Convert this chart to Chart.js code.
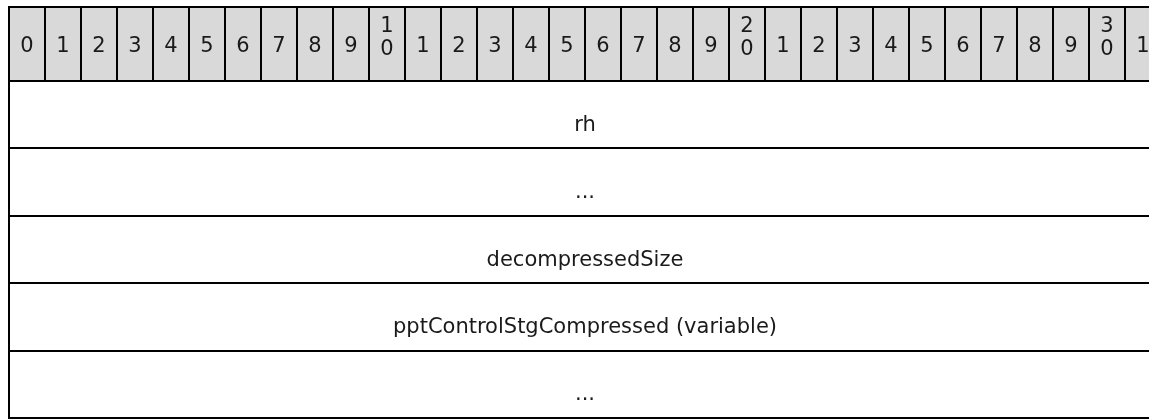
<!DOCTYPE html>
<html>
<head>
<meta charset="utf-8">
<script src="https://cdn.jsdelivr.net/npm/chart.js@4/dist/chart.umd.min.js"></script>
<style>
html,body{margin:0;padding:0;background:#fff;overflow:hidden;width:1149px;height:420px}
canvas{display:block}
</style>
</head>
<body>
<canvas id="c" width="1170" height="420"></canvas>
<script>
// ---- data ----
const bitLabels = ['0','1','2','3','4','5','6','7','8','9',
  ['1','0'],'1','2','3','4','5','6','7','8','9',
  ['2','0'],'1','2','3','4','5','6','7','8','9',
  ['3','0'],'1'];
const headerCells = [1,1,1,1,1,1,1,1,1,1,1,1,1,1,1,1,1,1,1,1,1,1,1,1,1,1,1,1,1,1,1,1];
const fieldNames = ['rh','...','decompressedSize','pptControlStgCompressed (variable)','...'];
const fieldSpans = [[0,32],[0,32],[0,32],[0,32],[0,32]];
const bitCount = 32;

// ---- styles ----
const LINE = '#000000';
const HEAD_FILL = '#d9d9d9';
const TEXT = '#1a1a1a';
const FONT = '21px "DejaVu Sans", Verdana, sans-serif';

const cellText = {
  id: 'cellText',
  afterDraw(chart) {
    const ctx = chart.ctx;
    ctx.save();
    ctx.font = FONT;
    ctx.fillStyle = TEXT;
    ctx.textAlign = 'center';
    ctx.textBaseline = 'alphabetic';
    chart.getDatasetMeta(0).data.forEach((el, i) => {
      const cx = el.x, cy = (el.y + el.base) / 2;
      const lab = bitLabels[i];
      if (Array.isArray(lab)) {
        ctx.fillText(lab[0], cx, cy - 12);
        ctx.fillText(lab[1], cx, cy + 11);
      } else {
        ctx.fillText(lab, cx, cy + 8);
      }
    });
    chart.getDatasetMeta(1).data.forEach((el, i) => {
      ctx.fillText(fieldNames[i], (el.x + el.base) / 2, el.y + 16);
    });
    ctx.restore();
  }
};

const gridOpts = { color: LINE, lineWidth: 2, drawTicks: false, z: 1 };
const borderOpts = { display: true, color: LINE, width: 2, z: 1 };

new Chart(document.getElementById('c'), {
  type: 'bar',
  data: {
    labels: bitLabels,
    datasets: [
      {
        label: 'bits',
        indexAxis: 'x',
        xAxisID: 'xb',
        yAxisID: 'yh',
        data: headerCells,
        grouped: false,
        backgroundColor: HEAD_FILL,
        borderColor: LINE,
        borderWidth: { left: 1, right: 1, top: 0, bottom: 0 },
        borderSkipped: false,
        inflateAmount: 0,
        barPercentage: 1,
        categoryPercentage: 1
      },
      {
        label: 'fields',
        indexAxis: 'y',
        xAxisID: 'xv',
        yAxisID: 'yb',
        data: fieldSpans,
        grouped: false,
        backgroundColor: '#ffffff',
        borderWidth: 0,
        inflateAmount: 0,
        barPercentage: 1,
        categoryPercentage: 1
      }
    ]
  },
  options: {
    responsive: false,
    animation: false,
    devicePixelRatio: 1,
    events: [],
    layout: { padding: { left: 9, right: 9, top: 7, bottom: 2 } },
    plugins: { legend: { display: false }, tooltip: { enabled: false }, title: { display: false } },
    scales: {
      xb: { type: 'category', position: 'bottom', display: false, offset: true },
      xv: { type: 'linear', position: 'bottom', display: false, min: 0, max: bitCount },
      yh: {
        type: 'linear', position: 'left', stack: 'rows', stackWeight: 74, weight: 1,
        min: 0, max: 1, ticks: { display: false, stepSize: 1 },
        grid: gridOpts, border: borderOpts
      },
      yb: {
        type: 'category', position: 'left', stack: 'rows', stackWeight: 337, weight: 0,
        labels: fieldNames, offset: true,
        ticks: { display: false },
        grid: Object.assign({ offset: true }, gridOpts), border: borderOpts
      }
    }
  },
  plugins: [cellText]
});
</script>
</body>
</html>
